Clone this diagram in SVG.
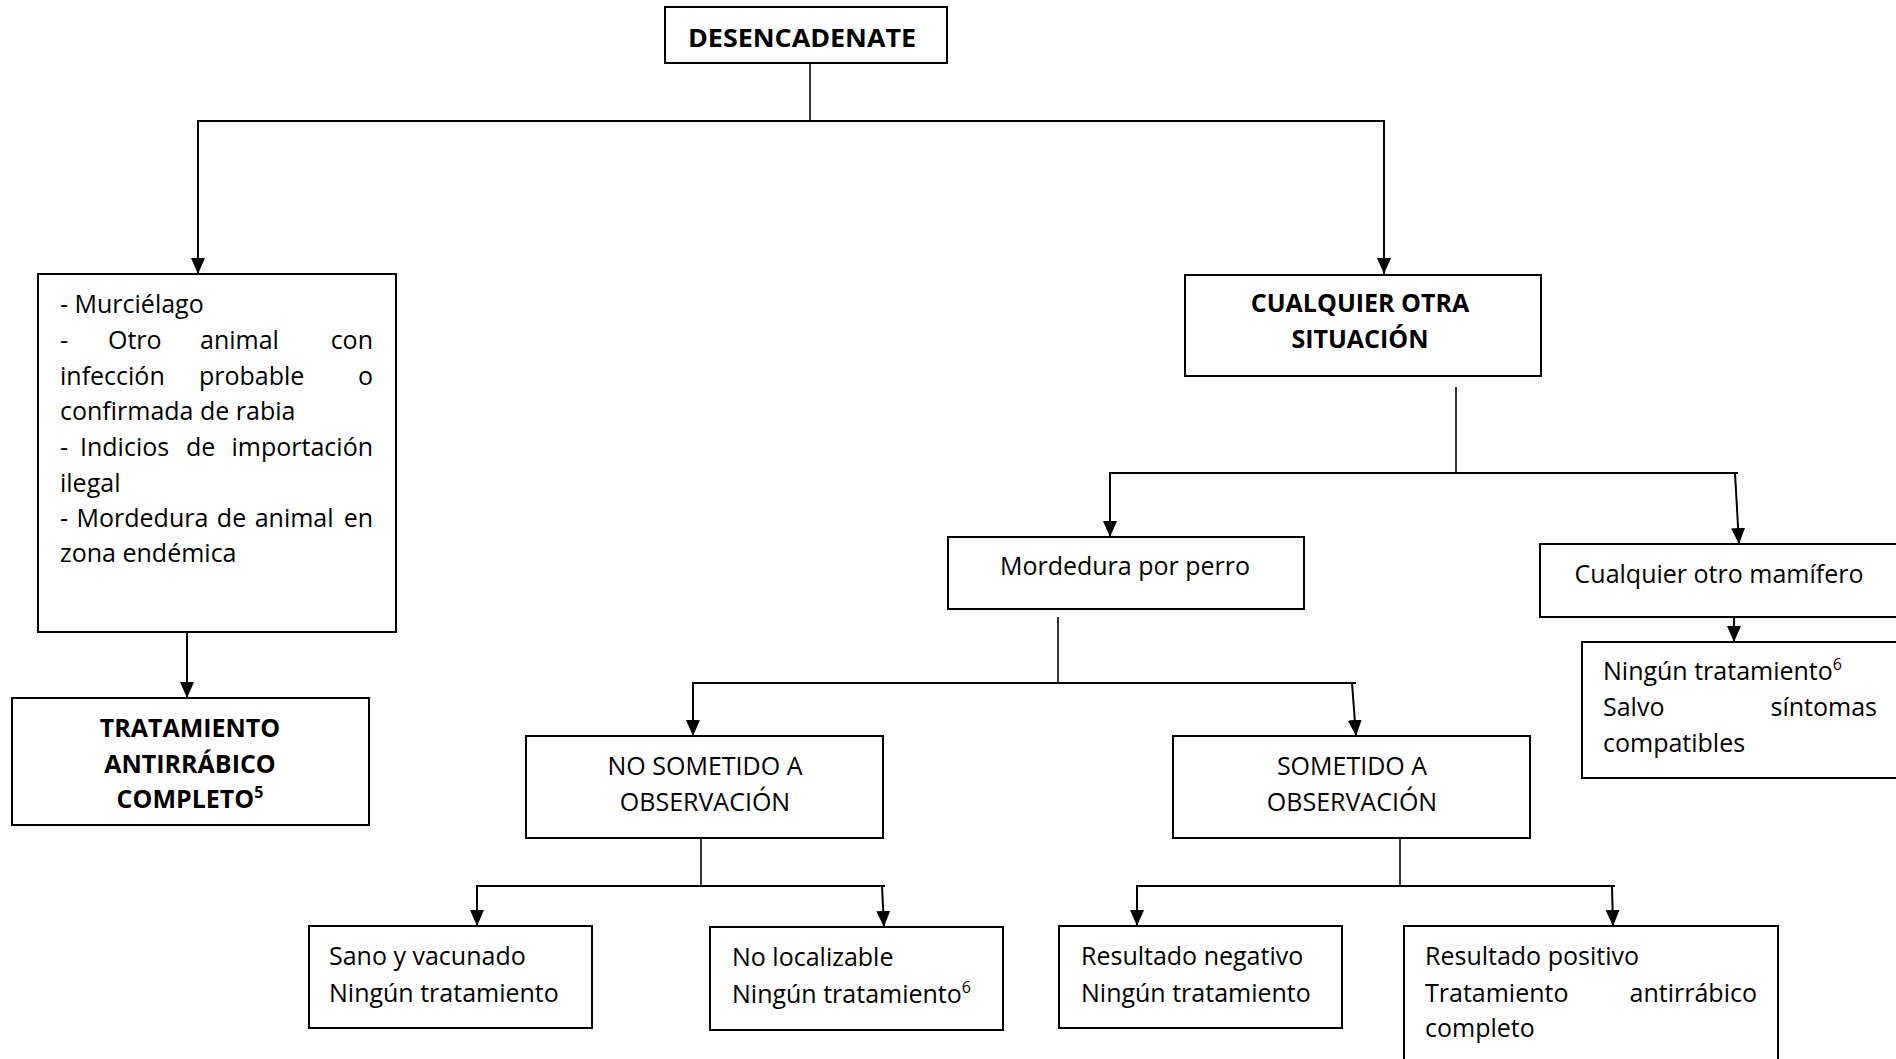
<svg xmlns="http://www.w3.org/2000/svg" width="1896" height="1059" viewBox="0 0 1896 1059">
<style>
.box{fill:#fff;stroke:#000;stroke-width:2}
.t{font-family:'Open Sans','Liberation Sans',sans-serif;font-size:25px;fill:#000}
.b{font-family:'Open Sans','Liberation Sans',sans-serif;font-size:25px;font-weight:bold;fill:#000}
.c{text-anchor:middle}
.e{text-anchor:end}
.ln{fill:none;stroke:#000;stroke-width:2}
.stem{fill:none;stroke:#000;stroke-width:1.6}
.arr{fill:none;stroke:#000;stroke-width:2;marker-end:url(#ah)}
</style>
<defs>
<marker id="ah" markerUnits="userSpaceOnUse" markerWidth="16" markerHeight="16" viewBox="0 0 16 14" refX="16" refY="7" orient="auto">
<path d="M0,0 L16,7 L0,14 Z" fill="#000"/>
</marker>
</defs>
<rect width="1896" height="1059" fill="#fff"/>
<g id="connectors">
<line class="stem" x1="810" y1="63" x2="810" y2="121"/>
<line class="ln" x1="197" y1="121" x2="1385" y2="121"/>
<line class="arr" x1="198" y1="121" x2="198" y2="274"/>
<line class="arr" x1="1384" y1="121" x2="1384" y2="274"/>
<line class="arr" x1="187" y1="632" x2="187" y2="698"/>
<line class="stem" x1="1456" y1="387" x2="1456" y2="473"/>
<line class="ln" x1="1109" y1="473" x2="1738" y2="473"/>
<line class="arr" x1="1110" y1="473" x2="1110" y2="537"/>
<line class="arr" x1="1735" y1="473" x2="1739" y2="544"/>
<line class="arr" x1="1734" y1="617" x2="1734" y2="642"/>
<line class="stem" x1="1058" y1="617" x2="1058" y2="683"/>
<line class="ln" x1="692" y1="683" x2="1356" y2="683"/>
<line class="arr" x1="693" y1="683" x2="693" y2="736"/>
<line class="arr" x1="1352" y1="683" x2="1356" y2="736"/>
<line class="stem" x1="701" y1="838" x2="701" y2="886"/>
<line class="ln" x1="476" y1="886" x2="885" y2="886"/>
<line class="arr" x1="477" y1="886" x2="477" y2="926"/>
<line class="arr" x1="882" y1="886" x2="884" y2="927"/>
<line class="stem" x1="1400" y1="838" x2="1400" y2="886"/>
<line class="ln" x1="1136" y1="886" x2="1615" y2="886"/>
<line class="arr" x1="1137" y1="886" x2="1137" y2="926"/>
<line class="arr" x1="1612" y1="886" x2="1613" y2="926"/>
</g>
<g id="desencadenate">
<rect class="box" x="665" y="7" width="282" height="56"/>
<text class="b c" x="802" y="47" textLength="228" lengthAdjust="spacingAndGlyphs">DESENCADENATE</text>
</g>
<g id="animales-riesgo">
<rect class="box" x="38" y="274" width="358" height="358"/>
<text class="t" x="60" y="313">- Murciélago</text>
<text class="t" y="349"><tspan x="60">-</tspan><tspan x="108">Otro</tspan><tspan x="200">animal</tspan></text>
<text class="t e" x="373" y="349">con</text>
<text class="t" y="385"><tspan x="60">infección</tspan><tspan x="199">probable</tspan></text>
<text class="t e" x="373" y="385">o</text>
<text class="t" x="60" y="420">confirmada de rabia</text>
<text class="t" y="456"><tspan x="60">-</tspan><tspan x="80">Indicios</tspan><tspan x="186">de</tspan></text>
<text class="t e" x="373" y="456">importación</text>
<text class="t" x="60" y="492">ilegal</text>
<text class="t" x="60" y="527" word-spacing="2">- Mordedura de animal</text>
<text class="t e" x="373" y="527">en</text>
<text class="t" x="60" y="562">zona endémica</text>
</g>
<g id="tratamiento-completo">
<rect class="box" x="12" y="698" width="357" height="127"/>
<text class="b c" x="190" y="737">TRATAMIENTO</text>
<text class="b c" x="190" y="773">ANTIRRÁBICO</text>
<text class="b c" x="190" y="808">COMPLETO<tspan font-size="16" dy="-10">5</tspan></text>
</g>
<g id="cualquier-otra">
<rect class="box" x="1185" y="275" width="356" height="101"/>
<text class="b c" x="1360" y="312">CUALQUIER OTRA</text>
<text class="b c" x="1360" y="348">SITUACIÓN</text>
</g>
<g id="mordedura-perro">
<rect class="box" x="948" y="537" width="356" height="72"/>
<text class="t c" x="1125" y="575">Mordedura por perro</text>
</g>
<g id="otro-mamifero">
<rect class="box" x="1540" y="544" width="370" height="73"/>
<text class="t c" x="1719" y="583">Cualquier otro mamífero</text>
</g>
<g id="ningun-salvo">
<rect class="box" x="1582" y="642" width="330" height="136"/>
<text class="t" x="1603" y="680">Ningún tratamiento<tspan font-size="16" dy="-10">6</tspan></text>
<text class="t" x="1603" y="716">Salvo</text>
<text class="t e" x="1877" y="716">síntomas</text>
<text class="t" x="1603" y="752">compatibles</text>
</g>
<g id="no-sometido">
<rect class="box" x="526" y="736" width="357" height="102"/>
<text class="t c" x="705" y="775">NO SOMETIDO A</text>
<text class="t c" x="705" y="811">OBSERVACIÓN</text>
</g>
<g id="sometido">
<rect class="box" x="1173" y="736" width="357" height="102"/>
<text class="t c" x="1352" y="775">SOMETIDO A</text>
<text class="t c" x="1352" y="811">OBSERVACIÓN</text>
</g>
<g id="sano-vacunado">
<rect class="box" x="309" y="926" width="283" height="102"/>
<text class="t" x="329" y="965">Sano y vacunado</text>
<text class="t" x="329" y="1002">Ningún tratamiento</text>
</g>
<g id="no-localizable">
<rect class="box" x="710" y="927" width="293" height="103"/>
<text class="t" x="732" y="966">No localizable</text>
<text class="t" x="732" y="1003">Ningún tratamiento<tspan font-size="16" dy="-10">6</tspan></text>
</g>
<g id="resultado-negativo">
<rect class="box" x="1059" y="926" width="283" height="102"/>
<text class="t" x="1081" y="965">Resultado negativo</text>
<text class="t" x="1081" y="1002">Ningún tratamiento</text>
</g>
<g id="resultado-positivo">
<rect class="box" x="1404" y="926" width="374" height="145"/>
<text class="t" x="1425" y="965">Resultado positivo</text>
<text class="t" x="1425" y="1002">Tratamiento</text>
<text class="t e" x="1757" y="1002">antirrábico</text>
<text class="t" x="1425" y="1037">completo</text>
</g>
</svg>
